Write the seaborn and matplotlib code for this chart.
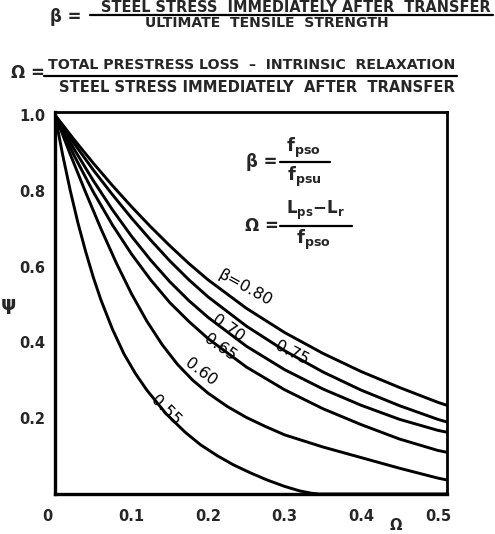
import matplotlib
matplotlib.use("Agg")
import matplotlib.pyplot as plt
import matplotlib.transforms as mtransforms
import pandas as pd
import seaborn as sns
from matplotlib.lines import Line2D

# ---- data ----
omega_055 = [0, 0.01, 0.02, 0.03, 0.04, 0.05, 0.06, 0.075, 0.09, 0.105, 0.12, 0.145, 0.17, 0.19, 0.212, 0.233, 0.255, 0.277, 0.30, 0.32, 0.335, 0.345, 0.512]
psi_055 = [1.0, 0.895, 0.80, 0.715, 0.64, 0.572, 0.512, 0.435, 0.37, 0.318, 0.274, 0.212, 0.163, 0.13, 0.101, 0.077, 0.056, 0.037, 0.02, 0.008, 0.002, 0.0, 0.0]

omega_060 = [0, 0.02, 0.04, 0.06, 0.08, 0.1, 0.12, 0.14, 0.16, 0.18, 0.2, 0.225, 0.25, 0.275, 0.3, 0.35, 0.4, 0.45, 0.5, 0.512]
psi_060 = [1.0, 0.896, 0.796, 0.70, 0.61, 0.528, 0.456, 0.394, 0.342, 0.30, 0.266, 0.231, 0.202, 0.178, 0.156, 0.124, 0.096, 0.068, 0.042, 0.037]

omega_grid = [0, 0.025, 0.05, 0.075, 0.1, 0.125, 0.15, 0.175, 0.2, 0.25, 0.3, 0.35, 0.4, 0.45, 0.5, 0.512]
psi_065 = [1.0, 0.893, 0.797, 0.71, 0.633, 0.565, 0.505, 0.455, 0.41, 0.335, 0.275, 0.225, 0.183, 0.145, 0.115, 0.11]
psi_070 = [1.0, 0.91, 0.827, 0.75, 0.68, 0.617, 0.56, 0.51, 0.466, 0.39, 0.328, 0.277, 0.234, 0.197, 0.168, 0.163]
psi_075 = [1.0, 0.925, 0.855, 0.79, 0.728, 0.67, 0.615, 0.565, 0.52, 0.443, 0.378, 0.322, 0.274, 0.233, 0.197, 0.19]
psi_080 = [1.0, 0.935, 0.873, 0.814, 0.758, 0.705, 0.655, 0.608, 0.565, 0.49, 0.426, 0.371, 0.323, 0.281, 0.242, 0.234]

curve_labels = ["0.55", "0.60", "0.65", "0.70", "0.75", "β=0.80"]
label_omega = [0.145, 0.191, 0.216, 0.226, 0.31, 0.248]
label_psi = [0.221, 0.321, 0.387, 0.437, 0.371, 0.545]
label_rot = [-45, -37, -35, -35, -27, -29]

x_ticks = [0, 0.1, 0.2, 0.3, 0.4, 0.5]
x_ticklabels = ["0", "0.1", "0.2", "0.3", "0.4", "0.5"]
y_ticks = [0.2, 0.4, 0.6, 0.8, 1.0]
y_ticklabels = ["0.2", "0.4", "0.6", "0.8", "1.0"]

frames = []
for b, om, ps in [("0.55", omega_055, psi_055), ("0.60", omega_060, psi_060),
                  ("0.65", omega_grid, psi_065), ("0.70", omega_grid, psi_070),
                  ("0.75", omega_grid, psi_075), ("0.80", omega_grid, psi_080)]:
    frames.append(pd.DataFrame({"omega": om, "psi": ps, "beta": b}))
df = pd.concat(frames, ignore_index=True)

sns.set_theme(style="white")
plt.rcParams['font.family'] = ['DejaVu Sans']

W, H = 495, 534
fig = plt.figure(figsize=(W / 100, H / 100), dpi=100)
ax = fig.add_axes([55 / W, 1 - 494 / H, (447 - 55) / W, (494 - 112) / H])

sns.lineplot(data=df, x="omega", y="psi", hue="beta", palette=["black"] * 6,
             estimator=None, sort=False, legend=False, linewidth=2.1, ax=ax)

ax.set_xlim(0, 0.512)
ax.set_ylim(0, 1.008)
for s in ax.spines.values():
    s.set_color("black")
    s.set_linewidth(2.0)
ax.spines["left"].set_linewidth(2.4)
ax.spines["bottom"].set_linewidth(2.4)

ax.set_xticks(x_ticks)
ax.set_xticklabels(x_ticklabels, fontsize=10.5, fontweight="bold")
ax.set_yticks(y_ticks)
ax.set_yticklabels(y_ticklabels, fontsize=10.5, fontweight="bold")
ax.tick_params(axis="both", which="major", length=0, pad=7)
ax.tick_params(axis="x", which="major", pad=11)
ax.set_xticks([0.1, 0.2, 0.3, 0.4], minor=True)
ax.set_yticks([0.2, 0.4, 0.6, 0.8], minor=True)
ax.tick_params(axis="both", which="minor", direction="in", length=14, width=1.2, color="black")
ax.set_xlabel("")
ax.set_ylabel("")
# the "0" label sits a little left of the corner in the reference
zero_lbl = ax.get_xticklabels()[0]
zero_lbl.set_transform(zero_lbl.get_transform() +
                       mtransforms.ScaledTranslation(-8 / 100, 0, fig.dpi_scale_trans))

for t, xo, yo, r in zip(curve_labels, label_omega, label_psi, label_rot):
    ax.text(xo, yo, t, rotation=r, ha="center", va="center", fontsize=11.5,
            rotation_mode="anchor", color="black")

fig.text(9 / W, 1 - 304 / H, "ψ", fontsize=14, fontweight="bold", ha="center", va="center")
fig.text(396 / W, 1 - 525 / H, "Ω", fontsize=10.5, fontweight="bold", ha="center", va="center")

# ---- header definitions ----
renderer = fig.canvas.get_renderer()

def fit_text(xc, yc, s, width_px, fs=10, weight="bold"):
    t = fig.text(xc / W, 1 - yc / H, s, fontsize=fs, fontweight=weight, ha="center", va="center")
    w = t.get_window_extent(renderer).width
    t.set_fontsize(fs * width_px / w)
    return t

def hbar(x0, x1, y, lw=1.6):
    fig.add_artist(Line2D([x0 / W, x1 / W], [1 - y / H, 1 - y / H], color="black", lw=lw))

fig.text(66 / W, 1 - 17 / H, "β =", fontsize=12, fontweight="bold", ha="center", va="center")
fit_text(296, 8, "STEEL STRESS  IMMEDIATELY AFTER  TRANSFER", 392, fs=9.5)
hbar(90, 493, 15)
fit_text(267, 23, "ULTIMATE  TENSILE  STRENGTH", 247, fs=9.5)

fig.text(28 / W, 1 - 73 / H, "Ω =", fontsize=12, fontweight="bold", ha="center", va="center")
fit_text(252, 65, "TOTAL PRESTRESS LOSS  –  INTRINSIC  RELAXATION", 410, fs=9.5)
hbar(44, 457, 76)
fit_text(257, 88, "STEEL STRESS IMMEDIATELY  AFTER  TRANSFER", 399, fs=9.5)

# ---- inner definitions ----
fig.text(262 / W, 1 - 162 / H, "β =", fontsize=12, fontweight="bold", ha="center", va="center")
fig.text(303 / W, 1 - 148 / H, r"$\mathbf{f}_{\mathbf{pso}}$", fontsize=13, ha="center", va="center")
hbar(280, 330, 162)
fig.text(304 / W, 1 - 177 / H, r"$\mathbf{f}_{\mathbf{psu}}$", fontsize=13, ha="center", va="center")

fig.text(262 / W, 1 - 226 / H, "Ω =", fontsize=12, fontweight="bold", ha="center", va="center")
fig.text(315 / W, 1 - 210 / H, r"$\mathbf{L}_{\mathbf{ps}}\mathbf{-L}_{\mathbf{r}}$", fontsize=12, ha="center", va="center")
hbar(280, 352, 226)
fig.text(313 / W, 1 - 240 / H, r"$\mathbf{f}_{\mathbf{pso}}$", fontsize=13, ha="center", va="center")

fig.savefig("out.png", dpi=100, facecolor="white")
